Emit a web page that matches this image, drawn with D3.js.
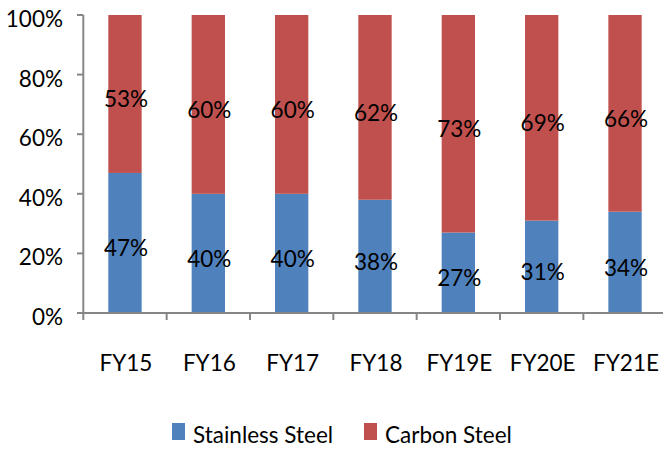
<!DOCTYPE html>
<html>
<head>
<meta charset="utf-8">
<script src="https://cdn.jsdelivr.net/npm/d3@7"></script>
<style>
  html, body { margin: 0; padding: 0; background: #fff; }
  svg text { font-family: Lato, "Open Sans", sans-serif; fill: #000; }
</style>
</head>
<body>
<svg id="chart" width="663" height="450"></svg>
<script>
// Share of steel type by fiscal year (percent)
const categories = ["FY15", "FY16", "FY17", "FY18", "FY19E", "FY20E", "FY21E"];
const stainless  = [47, 40, 40, 38, 27, 31, 34];
const carbon     = [53, 60, 60, 62, 73, 69, 66];
const yTicks     = [0, 20, 40, 60, 80, 100];
const seriesNames  = ["Stainless Steel", "Carbon Steel"];
const seriesColors = ["#4F81BD", "#C0504D"];

const svg = d3.select("#chart");
const axisColor = "#868686";
const fontSize = 22.5;

const x = d3.scaleBand()
  .domain(categories)
  .range([83.3, 666.7])
  .paddingInner(0.6)
  .paddingOuter(0.3);

const y = d3.scaleLinear().domain([0, 100]).range([313, 15]);

// Stack the two series
const rows = categories.map((c, i) => ({ cat: c, s: stainless[i], c: carbon[i] }));
const stack = d3.stack().keys(["s", "c"]);
const layers = stack(rows);

const g = svg.append("g");
layers.forEach((layer, li) => {
  g.selectAll(null)
    .data(layer)
    .join("rect")
    .attr("x", d => x(d.data.cat))
    .attr("width", x.bandwidth())
    .attr("y", d => y(d[1]))
    .attr("height", d => y(d[0]) - y(d[1]))
    .attr("fill", seriesColors[li]);
});

// Value labels centred in each segment
layers.forEach((layer) => {
  g.selectAll(null)
    .data(layer)
    .join("text")
    .attr("x", d => x(d.data.cat) + x.bandwidth() / 2 + 1)
    .attr("y", d => (y(d[0]) + y(d[1])) / 2 + 13.5)
    .attr("text-anchor", "middle")
    .attr("font-size", fontSize)
    .text(d => (d[1] - d[0]) + "%");
});

// Y axis
const yAxis = svg.append("g");
yAxis.append("line")
  .attr("x1", 83.3).attr("x2", 83.3)
  .attr("y1", y(100)).attr("y2", y(0))
  .attr("stroke", axisColor).attr("stroke-width", 2);
yAxis.selectAll(".tick")
  .data(yTicks)
  .join("g")
  .each(function (t) {
    const sel = d3.select(this);
    sel.append("line")
      .attr("x1", 77).attr("x2", 83.3)
      .attr("y1", y(t)).attr("y2", y(t))
      .attr("stroke", axisColor).attr("stroke-width", 2);
    sel.append("text")
      .attr("x", 63)
      .attr("y", y(t) + 12)
      .attr("text-anchor", "end")
      .attr("font-size", fontSize)
      .text(t + "%");
  });

// X axis with ticks between categories
const xAxis = svg.append("g");
xAxis.append("line")
  .attr("x1", 82.3).attr("x2", 663)
  .attr("y1", y(0)).attr("y2", y(0))
  .attr("stroke", axisColor).attr("stroke-width", 2);
const step = x.step();
const bounds = d3.range(categories.length + 1).map(i => x.range()[0] + i * step);
xAxis.selectAll(".tick")
  .data(bounds)
  .join("line")
  .attr("x1", d => d).attr("x2", d => d)
  .attr("y1", y(0)).attr("y2", y(0) + 7)
  .attr("stroke", axisColor).attr("stroke-width", 2);
xAxis.selectAll(".lab")
  .data(categories)
  .join("text")
  .attr("x", d => x(d) + x.bandwidth() / 2 + 1)
  .attr("y", 371)
  .attr("text-anchor", "middle")
  .attr("font-size", fontSize)
  .text(d => d);

// Legend
const legendX = [172, 364];
const legend = svg.append("g");
seriesNames.forEach((name, i) => {
  legend.append("rect")
    .attr("x", legendX[i]).attr("y", 423)
    .attr("width", 13).attr("height", 17)
    .attr("fill", seriesColors[i]);
  legend.append("text")
    .attr("x", legendX[i] + 21)
    .attr("y", 443)
    .attr("font-size", fontSize)
    .text(name);
});
</script>
</body>
</html>
